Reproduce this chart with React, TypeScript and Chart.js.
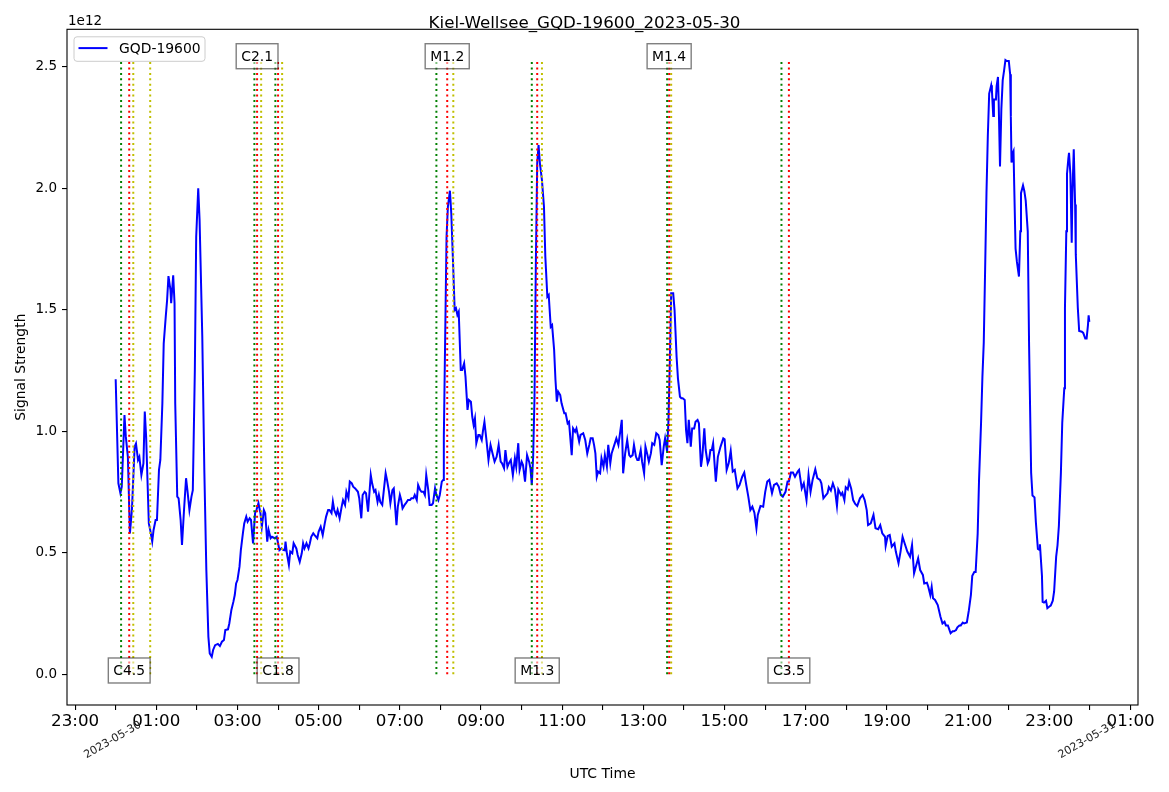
import React, { useEffect, useRef } from "react";
import { Chart, registerables } from "chart.js";

Chart.register(...registerables);

const chartTitle = "Kiel-Wellsee_GQD-19600_2023-05-30";
const seriesLabel = "GQD-19600";
const dayMinutes = [0, 1440];
const dayLabels = ["2023-05-30", "2023-05-31"];
const hourTicks = [-1, 0, 1, 2, 3, 4, 5, 6, 7, 8, 9, 10, 11, 12, 13, 14, 15, 16, 17, 18, 19, 20, 21, 22, 23, 24, 25];
const yTicks = [0, 0.5, 1.0, 1.5, 2.0, 2.5];

// minutes after 00:00 UTC on 2023-05-30
const sampleMinutes = [
  0, 4, 7, 9, 13, 15, 18, 21, 24, 28, 30, 33, 35, 38, 41, 43, 45, 49, 51, 54, 56, 59, 61, 64, 66, 69, 71, 74, 76, 78,
  81, 82, 85, 87, 88, 91, 93, 96, 98, 101, 104, 106, 109, 112, 114, 117, 119, 122, 124, 128, 131, 134, 137, 139, 142, 144, 147, 151, 154, 157,
  160, 162, 166, 168, 171, 174, 176, 178, 180, 183, 185, 188, 190, 193, 195, 198, 200, 203, 206, 208, 211, 214, 216, 219, 221, 224, 226, 229, 231, 235,
  238, 240, 242, 245, 248, 250, 251, 253, 256, 258, 261, 263, 267, 269, 272, 275, 277, 279, 282, 285, 287, 289, 292, 294, 298, 300, 303, 306, 309, 311,
  314, 316, 319, 321, 323, 326, 328, 331, 334, 336, 339, 341, 344, 346, 349, 351, 354, 358, 360, 363, 365, 368, 370, 373, 377, 379, 382, 384, 387, 389,
  391, 394, 399, 401, 404, 406, 409, 411, 415, 417, 420, 422, 424, 427, 429, 432, 435, 437, 440, 442, 445, 447, 450, 452, 455, 457, 459, 462, 464, 467,
  469, 472, 474, 477, 479, 482, 484, 485, 487, 489, 491, 494, 496, 499, 501, 503, 505, 507, 510, 512, 515, 517, 520, 522, 525, 527, 529, 531, 533, 536,
  538, 541, 543, 545, 548, 551, 554, 557, 560, 563, 566, 569, 571, 574, 576, 579, 581, 584, 587, 590, 592, 595, 597, 600, 602, 605, 608, 611, 613, 615,
  617, 619, 621, 623, 625, 627, 630, 633, 635, 638, 640, 643, 645, 648, 650, 652, 654, 657, 659, 663, 665, 668, 670, 674, 676, 679, 681, 685, 687, 691,
  694, 697, 700, 702, 705, 707, 709, 711, 713, 716, 718, 721, 723, 726, 728, 731, 733, 737, 740, 743, 746, 748, 750, 753, 756, 759, 761, 764, 766, 769,
  771, 773, 776, 778, 781, 783, 786, 788, 791, 793, 796, 799, 802, 804, 807, 810, 812, 815, 817, 819, 821, 824, 826, 829, 831, 834, 836, 838, 841, 843,
  845, 847, 850, 852, 855, 857, 860, 862, 865, 867, 870, 872, 875, 877, 879, 881, 883, 887, 890, 894, 898, 900, 903, 906, 909, 912, 915, 919, 922, 926,
  929, 932, 935, 938, 941, 944, 947, 949, 953, 957, 960, 963, 966, 970, 973, 977, 980, 983, 986, 990, 993, 995, 998, 1001, 1004, 1008, 1010, 1014, 1017, 1021,
  1024, 1027, 1030, 1034, 1037, 1041, 1043, 1046, 1050, 1052, 1054, 1057, 1060, 1063, 1066, 1068, 1072, 1074, 1077, 1079, 1082, 1084, 1087, 1090, 1093, 1096, 1100, 1104, 1107, 1110,
  1112, 1116, 1120, 1123, 1127, 1130, 1133, 1137, 1138, 1141, 1144, 1147, 1151, 1153, 1157, 1160, 1163, 1166, 1170, 1174, 1177, 1180, 1184, 1186, 1189, 1193, 1195, 1199, 1201, 1204,
  1206, 1208, 1211, 1215, 1219, 1222, 1225, 1227, 1230, 1232, 1234, 1237, 1239, 1242, 1244, 1247, 1249, 1252, 1254, 1258, 1261, 1264, 1266, 1269, 1271, 1274, 1276, 1279, 1281, 1283,
  1285, 1287, 1289, 1291, 1294, 1295, 1297, 1298, 1301, 1302, 1304, 1305, 1307, 1309, 1311, 1313, 1315, 1317, 1320, 1322, 1323, 1324, 1326, 1327, 1328, 1330, 1332, 1335, 1337, 1338,
  1341, 1343, 1345, 1348, 1350, 1353, 1355, 1358, 1360, 1363, 1365, 1366, 1369, 1370, 1372, 1375, 1377, 1380, 1382, 1385, 1387, 1390, 1392, 1394, 1397, 1399, 1402, 1403, 1405, 1406,
  1408, 1409, 1411, 1413, 1414, 1416, 1418, 1419, 1422, 1424, 1428, 1430, 1433, 1435, 1437, 1438, 1439,
];

// signal strength in units of 1e12
const signalE12 = [
  1.214, 0.786, 0.745, 0.772, 1.067, 0.978, 0.895, 0.58, 0.676, 0.937, 0.95, 0.882, 0.895, 0.82, 0.868, 1.081, 0.978, 0.621, 0.594, 0.546, 0.594, 0.635, 0.635, 0.841, 0.882, 1.115, 1.362, 1.472, 1.54, 1.639,
  1.581, 1.527, 1.642, 1.527, 1.115, 0.731, 0.724, 0.635, 0.532, 0.676, 0.807, 0.758, 0.676, 0.731, 0.758, 1.252, 1.801, 2.0, 1.87, 1.389, 0.841, 0.429, 0.155, 0.086, 0.072, 0.1, 0.12, 0.125, 0.116, 0.134,
  0.141, 0.182, 0.185, 0.21, 0.265, 0.299, 0.326, 0.374, 0.388, 0.443, 0.511, 0.58, 0.621, 0.649, 0.628, 0.642, 0.635, 0.539, 0.663, 0.676, 0.704, 0.663, 0.607, 0.676, 0.663, 0.546, 0.594, 0.56, 0.566, 0.56,
  0.566, 0.539, 0.511, 0.518, 0.511, 0.51, 0.546, 0.498, 0.45, 0.505, 0.498, 0.539, 0.518, 0.491, 0.463, 0.498, 0.539, 0.518, 0.539, 0.518, 0.539, 0.566, 0.58, 0.573, 0.56, 0.587, 0.607, 0.573, 0.621, 0.649,
  0.676, 0.676, 0.663, 0.71, 0.676, 0.656, 0.676, 0.642, 0.69, 0.717, 0.697, 0.751, 0.724, 0.793, 0.786, 0.772, 0.765, 0.751, 0.724, 0.642, 0.738, 0.751, 0.745, 0.669, 0.82, 0.786, 0.751, 0.758, 0.71, 0.738,
  0.71, 0.697, 0.827, 0.8, 0.751, 0.704, 0.758, 0.765, 0.614, 0.69, 0.738, 0.717, 0.683, 0.697, 0.704, 0.717, 0.717, 0.724, 0.724, 0.738, 0.717, 0.779, 0.758, 0.751, 0.751, 0.738, 0.82, 0.758, 0.697, 0.697,
  0.704, 0.765, 0.738, 0.717, 0.738, 0.793, 0.8, 0.978, 1.389, 1.801, 1.924, 1.99, 1.897, 1.664, 1.499, 1.506, 1.479, 1.492, 1.252, 1.252, 1.28, 1.225, 1.088, 1.129, 1.122, 1.06, 1.026, 1.053, 0.951, 0.985,
  0.985, 0.964, 1.005, 1.039, 0.964, 0.882, 0.944, 0.909, 0.875, 0.895, 0.944, 0.875, 0.868, 0.848, 0.923, 0.854, 0.868, 0.882, 0.82, 0.889, 0.854, 0.951, 0.841, 0.875, 0.861, 0.793, 0.902, 0.875, 0.848, 0.779,
  0.895, 1.142, 1.691, 2.103, 2.178, 2.103, 2.034, 1.924, 1.719, 1.554, 1.561, 1.43, 1.437, 1.335, 1.211, 1.122, 1.163, 1.149, 1.115, 1.074, 1.074, 1.033, 1.039, 0.902, 1.012, 0.998, 1.012, 0.957, 0.985, 0.992,
  0.964, 0.909, 0.944, 0.971, 0.971, 0.944, 0.909, 0.813, 0.834, 0.827, 0.889, 0.854, 0.902, 0.854, 0.944, 0.868, 0.909, 0.944, 0.971, 0.944, 1.005, 1.047, 0.827, 0.909, 0.964, 0.902, 0.895, 0.902, 0.944, 0.895,
  0.882, 0.882, 0.923, 0.875, 0.827, 0.937, 0.902, 0.875, 0.909, 0.951, 0.944, 0.992, 0.985, 0.964, 0.861, 0.937, 0.971, 0.916, 1.047, 1.28, 1.568, 1.568, 1.499, 1.307, 1.218, 1.142, 1.136, 1.136, 1.129, 1.005,
  0.951, 1.047, 0.937, 1.012, 1.012, 1.039, 1.047, 1.033, 0.854, 0.895, 1.012, 0.923, 0.868, 0.882, 0.923, 0.923, 0.951, 0.793, 0.895, 0.937, 0.971, 0.967, 0.841, 0.868, 0.92, 0.834, 0.841, 0.765, 0.779, 0.813,
  0.83, 0.779, 0.731, 0.676, 0.69, 0.665, 0.601, 0.656, 0.693, 0.69, 0.751, 0.793, 0.8, 0.745, 0.779, 0.786, 0.772, 0.738, 0.731, 0.751, 0.793, 0.793, 0.83, 0.83, 0.813, 0.834, 0.841, 0.765, 0.786, 0.717,
  0.82, 0.751, 0.8, 0.844, 0.807, 0.8, 0.786, 0.724, 0.738, 0.745, 0.77, 0.756, 0.786, 0.761, 0.693, 0.761, 0.738, 0.747, 0.717, 0.77, 0.761, 0.793, 0.765, 0.717, 0.701, 0.693, 0.724, 0.738, 0.717, 0.676,
  0.614, 0.621, 0.656, 0.601, 0.597, 0.614, 0.58, 0.566, 0.528, 0.569, 0.573, 0.525, 0.539, 0.505, 0.457, 0.505, 0.566, 0.539, 0.505, 0.484, 0.532, 0.416, 0.457, 0.477, 0.429, 0.409, 0.374, 0.377, 0.36, 0.326,
  0.36, 0.313, 0.306, 0.285, 0.237, 0.209, 0.216, 0.201, 0.201, 0.185, 0.169, 0.177, 0.177, 0.182, 0.193, 0.201, 0.201, 0.213, 0.209, 0.213, 0.264, 0.327, 0.405, 0.421, 0.421, 0.579, 0.799, 1.035, 1.224, 1.366,
  1.665, 1.98, 2.216, 2.39, 2.424, 2.405, 2.298, 2.366, 2.366, 2.421, 2.458, 2.358, 2.09, 2.327, 2.445, 2.484, 2.528, 2.524, 2.524, 2.469, 2.295, 2.106, 2.146, 2.153, 2.012, 1.752, 1.697, 1.637, 1.823, 1.98,
  2.012, 1.988, 1.949, 1.823, 1.35, 0.83, 0.736, 0.728, 0.626, 0.516, 0.513, 0.535, 0.405, 0.298, 0.295, 0.303, 0.272, 0.279, 0.283, 0.303, 0.342, 0.484, 0.531, 0.61, 0.83, 1.035, 1.177, 1.508, 1.823, 2.059,
  2.122, 2.146, 2.059, 1.776, 1.98, 2.161, 1.933, 1.728, 1.508, 1.413, 1.41, 1.405, 1.382, 1.382, 1.437, 1.477, 1.45,
];

// flare events (minutes after 00:00 UTC)
const flareClasses = ["C4.5", "C2.1", "C1.8", "M1.2", "M1.3", "M1.4", "C3.5"];
const flarePeakMinutes = [20, 209, 240, 490, 623, 818, 995];
const flareLabelOnTop = [false, true, false, true, false, true, false];
const startMinutes = [8, 205, 236, 474, 615, 815, 984];
const endMinutes = [26, 51, 215, 246, 499, 630, 821];

const FONT = "'DejaVu Sans', 'Liberation Sans', sans-serif";

const hourLabel = (minutes: number) => {
  const h = Math.round(minutes / 60);
  if (Math.abs(h) % 2 !== 1) return "";
  const hh = ((h % 24) + 24) % 24;
  return `${String(hh).padStart(2, "0")}:00`;
};

const App: React.FC = () => {
  const canvasRef = useRef<HTMLCanvasElement>(null);

  useEffect(() => {
    if (!canvasRef.current) return;

    const values = signalE12.map((v) => v * 1e12);
    const peak = Math.max(...values);
    const yPad = peak * 0.05;
    const first = sampleMinutes[0];
    const last = sampleMinutes[sampleMinutes.length - 1];
    const xPad = (last - first) * 0.05;

    const vline = (t: number, color: string) => ({
      data: [
        { x: t, y: 0 },
        { x: t, y: peak },
      ],
      borderColor: color,
      borderWidth: 2,
      borderDash: [2, 3.4],
      pointRadius: 0,
      fill: false,
      order: 0,
    });

    const overlay = {
      id: "overlay",
      afterDatasetsDraw(chart: any) {
        const { ctx, chartArea: a, scales } = chart;
        const xs = scales.x;
        const ys = scales.y;
        ctx.save();

        // flare class boxes
        ctx.font = `13.9px ${FONT}`;
        ctx.textAlign = "center";
        ctx.textBaseline = "alphabetic";
        flareClasses.forEach((c, i) => {
          const px = xs.getPixelForValue(flarePeakMinutes[i]);
          const py = ys.getPixelForValue(flareLabelOnTop[i] ? peak : 0) - 3.8;
          const w = ctx.measureText(c).width + 10;
          const h = 25;
          ctx.fillStyle = "rgba(255,255,255,0.5)";
          ctx.fillRect(px - w / 2, py - h / 2, w, h);
          ctx.strokeStyle = "rgba(0,0,0,0.5)";
          ctx.lineWidth = 1.4;
          ctx.strokeRect(px - w / 2, py - h / 2, w, h);
          ctx.fillStyle = "#000";
          ctx.fillText(c, px, py + 4.5);
        });

        // legend
        const lx = a.left + 7;
        const ly = a.top + 7.5;
        ctx.beginPath();
        ctx.roundRect(lx, ly, 131, 24.5, 3);
        ctx.fillStyle = "rgba(255,255,255,0.8)";
        ctx.fill();
        ctx.strokeStyle = "#cccccc";
        ctx.lineWidth = 1;
        ctx.stroke();
        ctx.beginPath();
        ctx.moveTo(lx + 4.5, ly + 11.3);
        ctx.lineTo(lx + 33.5, ly + 11.3);
        ctx.strokeStyle = "#0000ff";
        ctx.lineWidth = 2;
        ctx.stroke();
        ctx.fillStyle = "#000";
        ctx.textAlign = "left";
        ctx.fillText(seriesLabel, lx + 45, ly + 16.5);
        ctx.restore();
      },
      afterDraw(chart: any) {
        const { ctx, chartArea: a, scales } = chart;
        const xs = scales.x;
        ctx.save();
        // spines
        ctx.strokeStyle = "#000";
        ctx.lineWidth = 1.1;
        ctx.strokeRect(a.left, a.top, a.right - a.left, a.bottom - a.top);

        // title
        ctx.fillStyle = "#000";
        ctx.textAlign = "center";
        ctx.textBaseline = "alphabetic";
        ctx.font = `16.7px ${FONT}`;
        ctx.fillText(chartTitle, chart.width / 2, 28);

        // offset text
        ctx.textAlign = "left";
        ctx.font = `13.5px ${FONT}`;
        ctx.fillText("1e12", a.left + 1, 25);

        // axis titles
        ctx.font = `13.9px ${FONT}`;
        ctx.textAlign = "center";
        ctx.fillText("UTC Time", (a.left + a.right) / 2, 778);
        ctx.save();
        ctx.translate(25, (a.top + a.bottom) / 2);
        ctx.rotate(-Math.PI / 2);
        ctx.fillText("Signal Strength", 0, 0);
        ctx.restore();

        // day labels
        ctx.font = `11px ${FONT}`;
        ctx.fillStyle = "#222";
        ctx.textBaseline = "middle";
        dayMinutes.forEach((m, i) => {
          const px = xs.getPixelForValue(m) - 3;
          ctx.save();
          ctx.translate(px, 740);
          ctx.rotate(-Math.PI / 6);
          ctx.fillText(dayLabels[i], 0, 0);
          ctx.restore();
        });
        ctx.restore();
      },
    };

    const chart = new Chart(canvasRef.current, {
      type: "line",
      data: {
        datasets: [
          {
            label: seriesLabel,
            data: sampleMinutes.map((m, i) => ({ x: m, y: values[i] })),
            borderColor: "#0000ff",
            borderWidth: 2,
            pointRadius: 0,
            tension: 0,
            fill: false,
            order: 1,
          },
          ...startMinutes.map((t) => vline(t, "#008000")),
          ...flarePeakMinutes.map((t) => vline(t, "#ff0000")),
          ...endMinutes.map((t) => vline(t, "#bfbf00")),
        ] as any,
      },
      options: {
        animation: false,
        responsive: false,
        layout: { padding: { top: 29.3, right: 31, left: 0, bottom: 0 } },
        plugins: {
          legend: { display: false },
          title: { display: false },
          tooltip: { enabled: false },
        },
        scales: {
          x: {
            type: "linear",
            min: first - xPad,
            max: last + xPad,
            afterBuildTicks: (s: any) => {
              s.ticks = hourTicks.map((h) => ({ value: h * 60 }));
            },
            afterFit: (s: any) => {
              s.height = 87;
            },
            ticks: {
              autoSkip: false,
              maxRotation: 0,
              minRotation: 0,
              color: "#000",
              padding: 2,
              font: { family: FONT, size: 16.7 },
              callback: (v: any) => hourLabel(Number(v)),
            },
            grid: { drawOnChartArea: false, drawTicks: true, tickLength: 5, color: "#000", lineWidth: 1.1 },
            border: { display: false },
          },
          y: {
            type: "linear",
            min: -yPad,
            max: peak + yPad,
            afterBuildTicks: (s: any) => {
              s.ticks = yTicks.map((v) => ({ value: v * 1e12 }));
            },
            afterFit: (s: any) => {
              s.width = 67;
            },
            ticks: {
              color: "#000",
              padding: 5,
              font: { family: FONT, size: 13.5 },
              callback: (v: any) => (Number(v) / 1e12).toFixed(1),
            },
            grid: { drawOnChartArea: false, drawTicks: true, tickLength: 5, color: "#000", lineWidth: 1.1 },
            border: { display: false },
          },
        },
      },
      plugins: [overlay],
    });

    return () => {
      chart.destroy();
    };
  }, []);

  return (
    <div style={{ position: "absolute", left: 0, top: 0, width: 1169, height: 792, background: "#fff" }}>
      <canvas ref={canvasRef} width={1169} height={792} style={{ width: 1169, height: 792 }} />
    </div>
  );
};

export default App;
